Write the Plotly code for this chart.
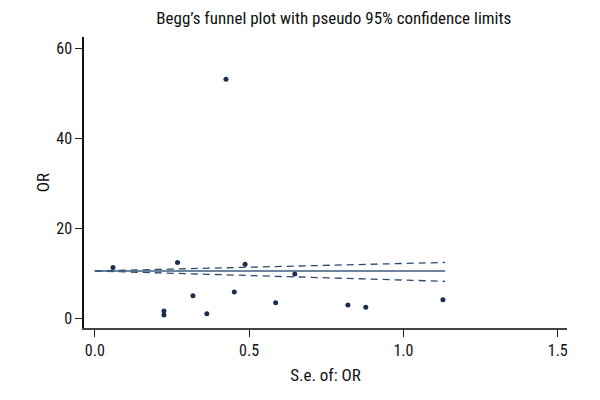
import plotly.graph_objects as go

# Study points (standard error of OR, OR)
se_points = [0.059, 0.268, 0.224, 0.224, 0.318, 0.363, 0.425, 0.452, 0.487, 0.586, 0.648, 0.82, 0.878, 1.128]
or_points = [11.3, 12.4, 1.6, 0.7, 5.0, 0.96, 53.2, 5.8, 12.0, 3.4, 9.8, 2.9, 2.4, 4.1]

# Pooled estimate and pseudo 95% confidence limits
se_grid = [0.0, 1.135]
pooled = [10.5, 10.5]
upper = [10.5, 12.4]
lower = [10.5, 8.2]

x_ticks = [0.0, 0.5, 1.0, 1.5]
x_tick_labels = ["0.0", "0.5", "1.0", "1.5"]
y_ticks = [0, 20, 40, 60]
y_tick_labels = ["0", "20", "40", "60"]

FONT = "Liberation Sans Narrow, Arial Narrow, Roboto Condensed, Roboto, sans-serif"

fig = go.Figure()
fig.add_trace(go.Scatter(x=se_grid, y=upper, mode="lines",
                         line=dict(color="#2e4a6b", width=1.3, dash="7px,5px"), hoverinfo="skip"))
fig.add_trace(go.Scatter(x=se_grid, y=lower, mode="lines",
                         line=dict(color="#2e4a6b", width=1.3, dash="7px,5px"), hoverinfo="skip"))
fig.add_trace(go.Scatter(x=se_grid, y=pooled, mode="lines",
                         line=dict(color="#3d5d82", width=1.4)))
fig.add_trace(go.Scatter(x=se_points, y=or_points, mode="markers",
                         marker=dict(color="#1a2f4d", size=5)))

fig.update_layout(
    width=600, height=400,
    paper_bgcolor="white", plot_bgcolor="white",
    showlegend=False,
    margin=dict(l=76, r=41, t=29, b=80),
    font=dict(family=FONT, size=16, color="#111"),
    title=dict(text="Begg’s funnel plot with pseudo 95% confidence limits",
               x=0.543, xanchor="center", y=0.975, yanchor="middle",
               font=dict(family=FONT, size=17, color="#111")),
)
fig.update_xaxes(
    range=[-0.035, 1.53], tickvals=x_ticks, ticktext=x_tick_labels,
    showgrid=False, zeroline=False, showline=True, linecolor="#444", linewidth=1.5,
    ticks="outside", ticklen=7, tickcolor="#222", tickwidth=1.3, automargin=False,
    title=dict(text="S.e. of: OR", font=dict(family=FONT, size=17), standoff=10),
)
fig.update_yaxes(
    range=[-2.2, 62.6], tickvals=y_ticks, ticktext=y_tick_labels,
    showgrid=False, zeroline=False, showline=True, linecolor="#111", linewidth=1.5,
    ticks="outside", ticklen=7, tickcolor="#222", tickwidth=1.3, automargin=False,
    title=dict(text="OR", font=dict(family=FONT, size=17), standoff=2),
)

fig.write_html("out.html")
